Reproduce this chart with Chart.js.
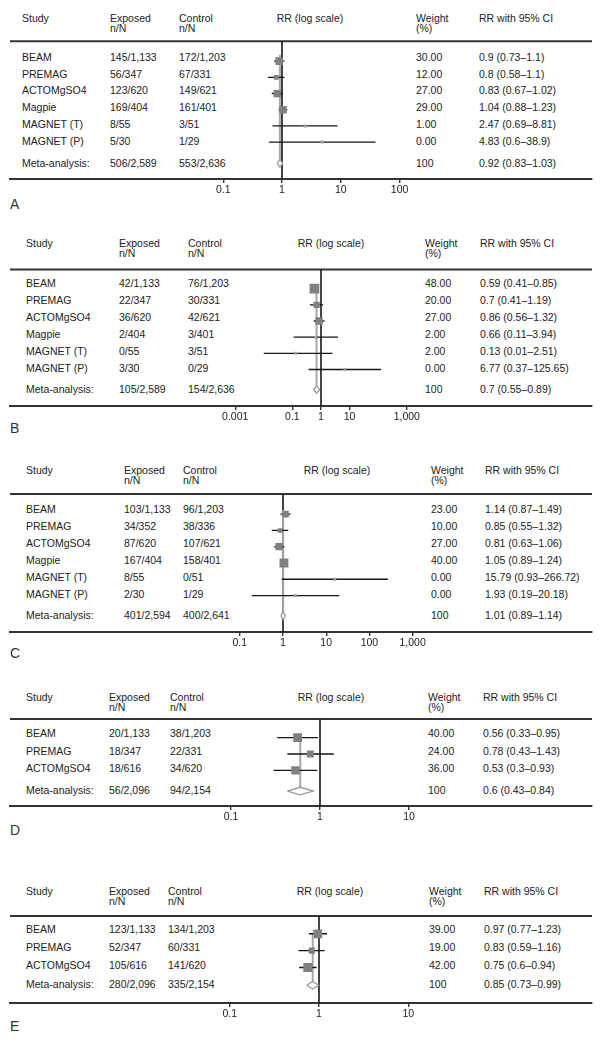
<!DOCTYPE html>
<html>
<head>
<meta charset="utf-8">
<script src="https://cdn.jsdelivr.net/npm/chart.js@4.4.1/dist/chart.umd.min.js"></script>
<style>
  body { margin: 0; background: #fff; }
  #page { position: relative; width: 603px; height: 1043px; background: #fff; overflow: hidden; }
  .t { position: absolute; font-family: "Liberation Sans", Arial, sans-serif; font-size: 10.5px; line-height: 12px; color: #222; white-space: nowrap; }
  .lbl { position: absolute; font-family: "Liberation Sans", Arial, sans-serif; font-size: 14px; line-height: 16px; color: #333; }
  canvas { position: absolute; left: 0; }
</style>
</head>
<body>
<div id="page"></div>
<script>
// study names (last entry = pooled row)
const studies6 = ["BEAM", "PREMAG", "ACTOMgSO4", "Magpie", "MAGNET (T)", "MAGNET (P)", "Meta-analysis:"];
const studies3 = ["BEAM", "PREMAG", "ACTOMgSO4", "Meta-analysis:"];

// panel A
const exposedA = ["145/1,133", "56/347", "123/620", "169/404", "8/55", "5/30", "506/2,589"];
const controlA = ["172/1,203", "67/331", "149/621", "161/401", "3/51", "1/29", "553/2,636"];
const weightA = [30, 12, 27, 29, 1, 0, 100];
const rrA = [0.9, 0.8, 0.83, 1.04, 2.47, 4.83, 0.92];
const loA = [0.73, 0.58, 0.67, 0.88, 0.69, 0.6, 0.83];
const hiA = [1.1, 1.1, 1.02, 1.23, 8.81, 38.9, 1.03];
const ticksA = [0.1, 1, 10, 100];

// panel B
const exposedB = ["42/1,133", "22/347", "36/620", "2/404", "0/55", "3/30", "105/2,589"];
const controlB = ["76/1,203", "30/331", "42/621", "3/401", "3/51", "0/29", "154/2,636"];
const weightB = [48, 20, 27, 2, 2, 0, 100];
const rrB = [0.59, 0.7, 0.86, 0.66, 0.13, 6.77, 0.7];
const loB = [0.41, 0.41, 0.56, 0.11, 0.01, 0.37, 0.55];
const hiB = [0.85, 1.19, 1.32, 3.94, 2.51, 125.65, 0.89];
const ticksB = [0.001, 0.1, 1, 10, 1000];

// panel C
const exposedC = ["103/1,133", "34/352", "87/620", "167/404", "8/55", "2/30", "401/2,594"];
const controlC = ["96/1,203", "38/336", "107/621", "158/401", "0/51", "1/29", "400/2,641"];
const weightC = [23, 10, 27, 40, 0, 0, 100];
const rrC = [1.14, 0.85, 0.81, 1.05, 15.79, 1.93, 1.01];
const loC = [0.87, 0.55, 0.63, 0.89, 0.93, 0.19, 0.89];
const hiC = [1.49, 1.32, 1.06, 1.24, 266.72, 20.18, 1.14];
const ticksC = [0.1, 1, 10, 100, 1000];

// panel D
const exposedD = ["20/1,133", "18/347", "18/616", "56/2,096"];
const controlD = ["38/1,203", "22/331", "34/620", "94/2,154"];
const weightD = [40, 24, 36, 100];
const rrD = [0.56, 0.78, 0.53, 0.6];
const loD = [0.33, 0.43, 0.3, 0.43];
const hiD = [0.95, 1.43, 0.93, 0.84];
const ticksD = [0.1, 1, 10];

// panel E
const exposedE = ["123/1,133", "52/347", "105/616", "280/2,096"];
const controlE = ["134/1,203", "60/331", "141/620", "335/2,154"];
const weightE = [39, 19, 42, 100];
const rrE = [0.97, 0.83, 0.75, 0.85];
const loE = [0.77, 0.59, 0.6, 0.73];
const hiE = [1.23, 1.16, 0.94, 0.99];
const ticksE = [0.1, 1, 10];

// layout of each panel (pixels)
const panels = [
  { name: "A", studies: studies6, exp: exposedA, ctl: controlA, wt: weightA, rr: rrA, lo: loA, hi: hiA, ticks: ticksA,
    head: 18, top: 36, row0: 56.7, step: 16.8, meta: 162.7, bottom: 179, label: 204, x1: 282, dec: 58.8, poolTop: -0.4,
    cols: [22, 110, 179, 310, 416, 479] },
  { name: "B", studies: studies6, exp: exposedB, ctl: controlB, wt: weightB, rr: rrB, lo: loB, hi: hiB, ticks: ticksB,
    head: 243, top: 263, row0: 283, step: 16.95, meta: 388.7, bottom: 406, label: 428, x1: 321, dec: 28.6, poolTop: -0.25,
    cols: [26, 119, 188, 331, 425, 480] },
  { name: "C", studies: studies6, exp: exposedC, ctl: controlC, wt: weightC, rr: rrC, lo: loC, hi: hiC, ticks: ticksC,
    head: 470, top: 488, row0: 509, step: 17, meta: 615, bottom: 632, label: 653, x1: 283, dec: 43.2, poolTop: -0.25,
    cols: [26, 124, 183, 337, 431, 485] },
  { name: "D", studies: studies3, exp: exposedD, ctl: controlD, wt: weightD, rr: rrD, lo: loD, hi: hiD, ticks: ticksD,
    head: 697, top: 713, row0: 733, step: 17.5, meta: 790, bottom: 806, label: 830, x1: 320, dec: 89, poolTop: 0,
    cols: [26, 109, 170, 331, 428, 483] },
  { name: "E", studies: studies3, exp: exposedE, ctl: controlE, wt: weightE, rr: rrE, lo: loE, hi: hiE, ticks: ticksE,
    head: 891, top: 910, row0: 929, step: 18, meta: 984, bottom: 1003, label: 1026, x1: 319, dec: 89.3, poolTop: 0,
    cols: [26, 109, 168, 330, 429, 484] }
];

const page = document.getElementById("page");

function addText(txt, x, y, cls, center) {
  const d = document.createElement("div");
  d.className = cls || "t";
  d.textContent = txt;
  d.style.left = x + "px";
  d.style.top = (y - 6) + "px";
  if (center) d.style.transform = "translateX(-50%)";
  page.appendChild(d);
}

function drawPanel(p) {
  const n = p.rr.length - 1;
  const c = p.cols;
  const rowY = i => (i < n ? p.row0 + i * p.step : p.meta);

  // header
  addText("Study", c[0], p.head);
  addText("Exposed", c[1], p.head);
  addText("n/N", c[1], p.head + 10);
  addText("Control", c[2], p.head);
  addText("n/N", c[2], p.head + 10);
  addText("RR (log scale)", c[3], p.head, "t", true);
  addText("Weight", c[4], p.head);
  addText("(%)", c[4], p.head + 10);
  addText("RR with 95% CI", c[5], p.head);

  // table rows
  p.studies.forEach((s, i) => {
    const y = rowY(i);
    addText(s, c[0], y);
    addText(p.exp[i], c[1], y);
    addText(p.ctl[i], c[2], y);
    addText(i < n ? p.wt[i].toFixed(2) : String(p.wt[i]), c[4], y);
    addText(p.rr[i] + " (" + p.lo[i] + "\u2013" + p.hi[i] + ")", c[5], y);
  });

  const lab = document.createElement("div");
  lab.className = "lbl";
  lab.textContent = p.name;
  lab.style.left = "10px";
  lab.style.top = (p.label - 8) + "px";
  page.appendChild(lab);

  // chart
  const axisH = 24;
  const canvasTop = p.top - 6;
  const H = p.bottom - canvasTop + axisH;
  const cv = document.createElement("canvas");
  cv.width = 603;
  cv.height = H;
  cv.style.top = canvasTop + "px";
  page.appendChild(cv);

  const toRow = px => (px - p.row0) / p.step;
  const yMin = toRow(canvasTop), yMax = toRow(p.bottom), topRow = toRow(p.top);
  const metaRow = toRow(p.meta);
  const dh = 4 / p.step;
  const xMin = Math.pow(10, (10 - p.x1) / p.dec);
  const xMax = Math.pow(10, (592 - p.x1) / p.dec);

  const ds = [];
  // study squares
  const sq = [];
  const radii = [];
  const cols = [];
  for (let i = 0; i < n; i++) {
    sq.push({ x: p.rr[i], y: i });
    const small = p.wt[i] <= 2;
    const side = small ? 3 : 1.4 * Math.sqrt(p.wt[i]);
    radii.push(side / Math.SQRT2);
    cols.push(small ? "#a0a0a0" : "#808080");
  }
  ds.push({ data: sq, pointStyle: "rect", pointRadius: radii, backgroundColor: cols, borderWidth: 0, showLine: false, order: 1 });

  // pooled diamond
  const m = p.rr[n];
  ds.push({
    data: [{ x: p.lo[n], y: metaRow }, { x: m, y: metaRow - dh }, { x: p.hi[n], y: metaRow }, { x: m, y: metaRow + dh }, { x: p.lo[n], y: metaRow }],
    showLine: true, borderColor: "#9a9a9a", borderWidth: 1.3, backgroundColor: "#fff", fill: "shape", pointRadius: 0, order: 2
  });

  // confidence intervals
  for (let i = 0; i < n; i++) {
    ds.push({ data: [{ x: p.lo[i], y: i }, { x: p.hi[i], y: i }], showLine: true, borderColor: "#151515", borderWidth: 1.4, pointRadius: 0, order: 3 });
  }

  // pooled estimate line
  ds.push({ data: [{ x: m, y: p.poolTop }, { x: m, y: metaRow - dh }], showLine: true, borderColor: "#a8a8a8", borderWidth: 2, pointRadius: 0, order: 4 });

  // line of no effect
  ds.push({ data: [{ x: 1, y: topRow }, { x: 1, y: yMax }], showLine: true, borderColor: "#151515", borderWidth: 1.6, pointRadius: 0, order: 5 });

  // top rule
  ds.push({ data: [{ x: xMin, y: topRow }, { x: xMax, y: topRow }], showLine: true, borderColor: "#333", borderWidth: 2, pointRadius: 0, order: 6 });

  new Chart(cv, {
    type: "scatter",
    data: { datasets: ds },
    options: {
      responsive: false,
      animation: false,
      devicePixelRatio: 1,
      layout: { padding: { left: 10, right: 11, top: 0, bottom: 0 } },
      plugins: { legend: { display: false }, tooltip: { enabled: false } },
      scales: {
        x: {
          type: "logarithmic",
          min: xMin,
          max: xMax,
          bounds: "data",
          afterBuildTicks: s => { s.ticks = p.ticks.map(v => ({ value: v })); },
          afterFit: s => { s.height = axisH; },
          grid: { drawOnChartArea: false, drawTicks: true, tickLength: 4, color: "#333", lineWidth: 1.4 },
          border: { display: true, color: "#333", width: 2 },
          ticks: {
            autoSkip: false,
            maxRotation: 0,
            padding: 1,
            color: "#222",
            font: { family: "'Liberation Sans', Arial, sans-serif", size: 10.5 },
            callback: v => Number(v).toLocaleString("en-US", { maximumFractionDigits: 3 })
          }
        },
        y: { type: "linear", reverse: true, min: yMin, max: yMax, bounds: "data", display: false }
      }
    }
  });
}

panels.forEach(drawPanel);
</script>
</body>
</html>
